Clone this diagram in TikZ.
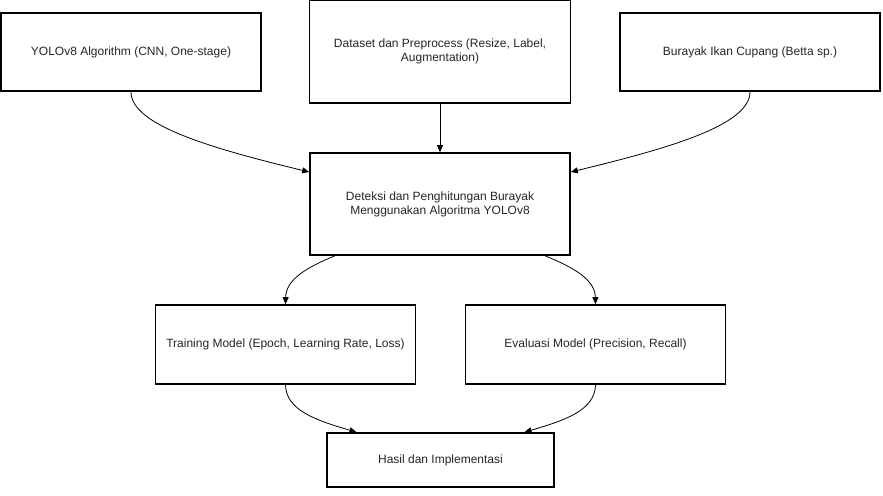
\documentclass[tikz,border=0pt]{standalone}
\usepackage{fontspec}
\setmainfont{Liberation Sans}
\usetikzlibrary{arrows.meta}
\begin{document}
\begin{tikzpicture}[x=1bp,y=-1bp,
  box/.style={draw=black,line width=1.6bp,fill=white,inner sep=0pt,align=center,
    font=\fontsize{12bp}{14bp}\selectfont,text=black!85},
  conn/.style={draw=black,line width=0.8bp,-{Triangle[length=7bp,width=6bp]}}]
\useasboundingbox (0,0) rectangle (883,496);
\node[box,minimum width=260bp,minimum height=78bp] (yolo) at (131,52) {YOLOv8 Algorithm (CNN, One-stage)};
\node[box,minimum width=261bp,minimum height=103bp] (data) at (440,51.5) {Dataset dan Preprocess (Resize, Label,\\Augmentation)};
\node[box,minimum width=260bp,minimum height=78bp] (bur) at (750,52) {Burayak Ikan Cupang (Betta sp.)};
\node[box,minimum width=260bp,minimum height=102bp] (det) at (440,204) {Deteksi dan Penghitungan Burayak\\Menggunakan Algoritma YOLOv8};
\node[box,minimum width=260bp,minimum height=79bp] (train) at (285.5,344.5) {Training Model (Epoch, Learning Rate, Loss)};
\node[box,minimum width=260bp,minimum height=79bp] (eval) at (595.5,344.5) {Evaluasi Model (Precision, Recall)};
\node[box,minimum width=227bp,minimum height=54bp] (hasil) at (440.5,460) {Hasil dan Implementasi};

\draw[conn] (yolo.south) .. controls (131,125) and (210,148) .. ([yshift=32bp]det.west);
\draw[conn] (bur.south) .. controls (750,125) and (670,148) .. ([yshift=32bp]det.east);
\draw[conn] (data.south) -- (det.north);
\draw[conn] ([xshift=-105bp]det.south) .. controls (305,268) and (286,280) .. (train.north);
\draw[conn] ([xshift=105bp]det.south) .. controls (575,268) and (595,280) .. (eval.north);
\draw[conn] (train.south) .. controls (286,410) and (315,420) .. ([xshift=-84bp]hasil.north);
\draw[conn] (eval.south) .. controls (595,410) and (566,420) .. ([xshift=84bp]hasil.north);
\end{tikzpicture}
\end{document}
